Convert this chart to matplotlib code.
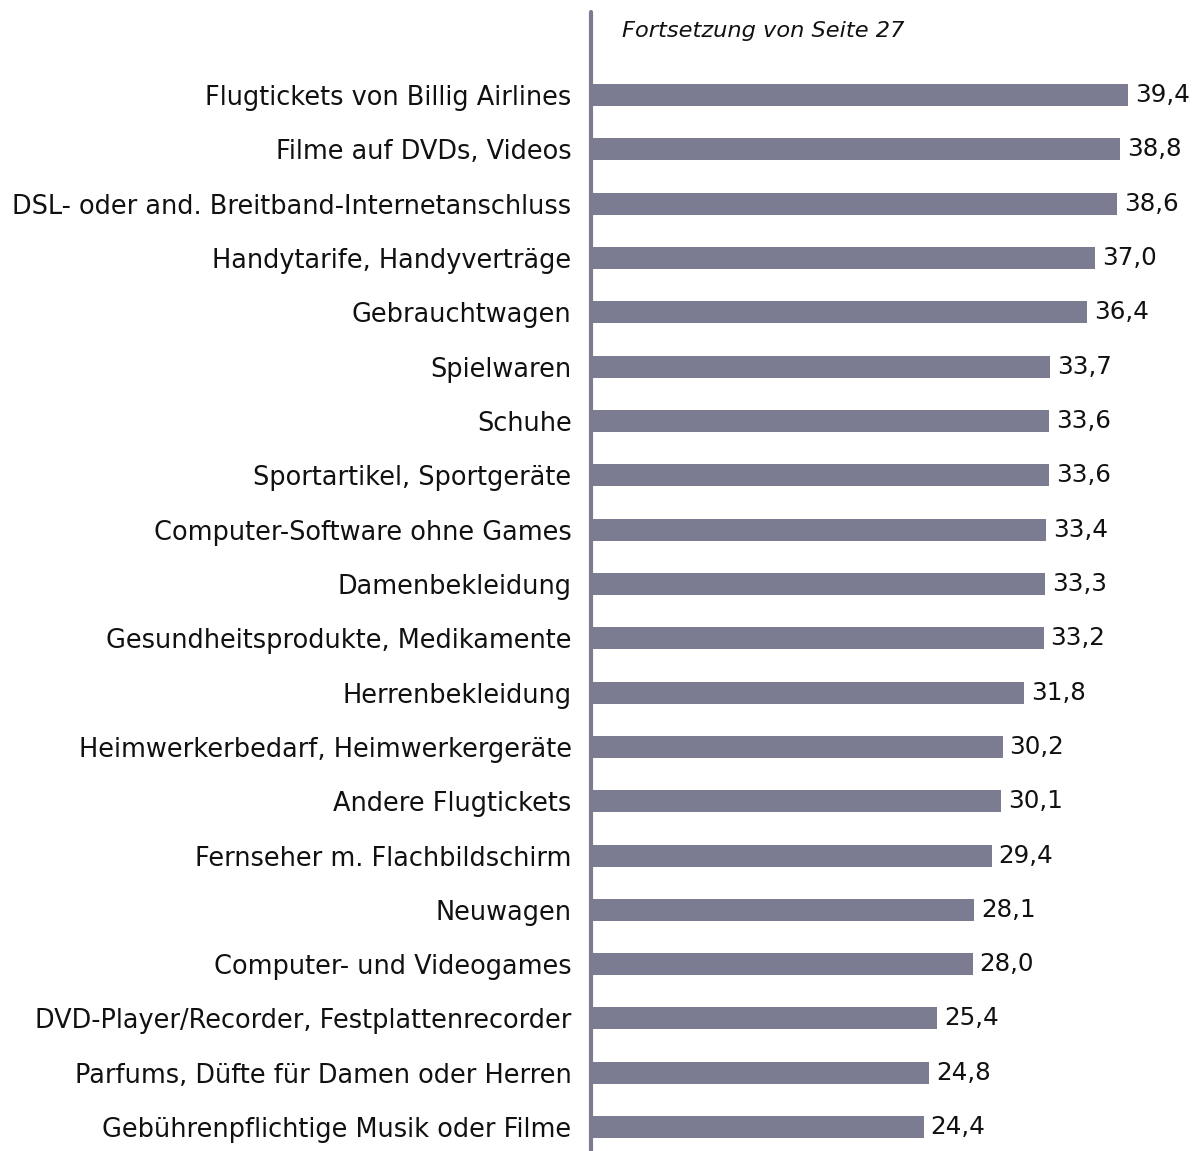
import matplotlib
matplotlib.use('Agg')
import matplotlib.pyplot as plt

categories = [
    'Flugtickets von Billig Airlines',
    'Filme auf DVDs, Videos',
    'DSL- oder and. Breitband-Internetanschluss',
    'Handytarife, Handyverträge',
    'Gebrauchtwagen',
    'Spielwaren',
    'Schuhe',
    'Sportartikel, Sportgeräte',
    'Computer-Software ohne Games',
    'Damenbekleidung',
    'Gesundheitsprodukte, Medikamente',
    'Herrenbekleidung',
    'Heimwerkerbedarf, Heimwerkergeräte',
    'Andere Flugtickets',
    'Fernseher m. Flachbildschirm',
    'Neuwagen',
    'Computer- und Videogames',
    'DVD-Player/Recorder, Festplattenrecorder',
    'Parfums, Düfte für Damen oder Herren',
    'Gebührenpflichtige Musik oder Filme',
]
values = [39.4, 38.8, 38.6, 37.0, 36.4, 33.7, 33.6, 33.6, 33.4, 33.3,
          33.2, 31.8, 30.2, 30.1, 29.4, 28.1, 28.0, 25.4, 24.8, 24.4]

bar_color = '#7b7b91'

W, H = 1195, 1151
fig = plt.figure(figsize=(W / 100, H / 100), dpi=100)
ax = fig.add_axes([591 / W, 0, (W - 591) / W, (H - 12) / H])

pos = list(range(len(categories)))
ax.barh(pos, values, height=0.405, color=bar_color)

for y, v in zip(pos, values):
    ax.annotate(f'{v:.1f}'.replace('.', ','), (v, y), xytext=(5, 0),
                textcoords='offset points', va='center', ha='left',
                fontsize=17.7, color='#111111')

ax.set_xlim(0, (W - 591) / 13.63)
ax.set_ylim(19 + 0.44, -1.53)
ax.set_yticks(pos)
ax.set_yticklabels(categories, fontsize=18.45, color='#111111')
ax.tick_params(axis='y', length=0, pad=14)
ax.set_xticks([])
for s in ['top', 'right', 'bottom']:
    ax.spines[s].set_visible(False)
ax.spines['left'].set_color(bar_color)
ax.spines['left'].set_linewidth(3)
ax.spines['left'].set_capstyle('round')

fig.text(622 / W, 1 - 31 / H, 'Fortsetzung von Seite 27', fontsize=16.2,
         style='italic', va='center', ha='left', color='#111111')

fig.savefig('out.png', dpi=100)
